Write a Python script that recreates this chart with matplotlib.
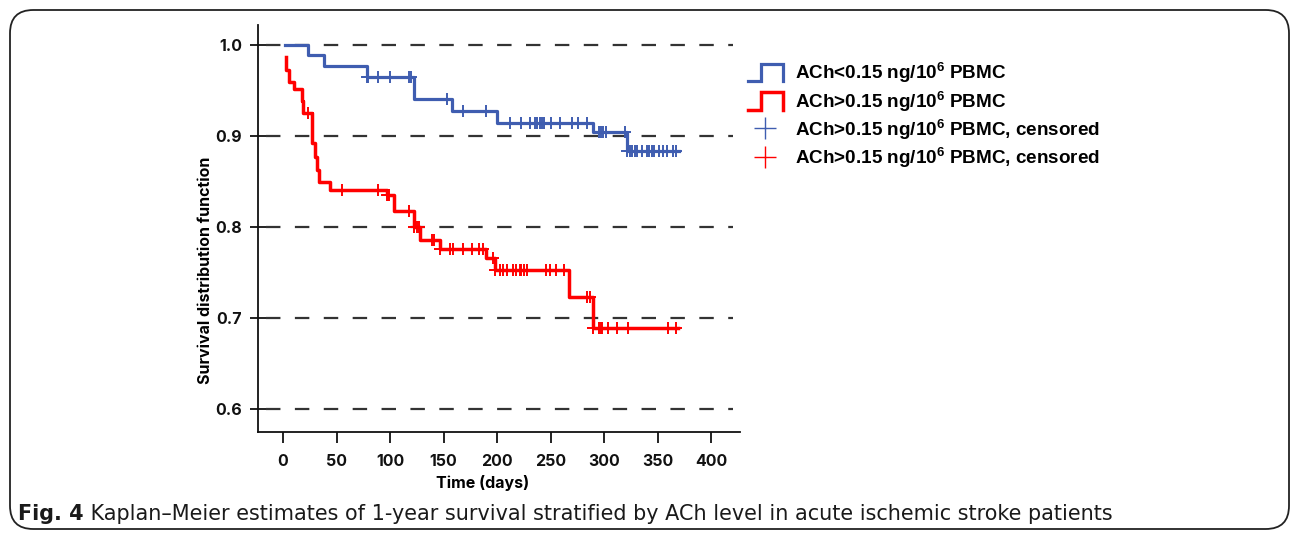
import numpy as np
import matplotlib
matplotlib.use("Agg")
import matplotlib.pyplot as plt
from matplotlib.lines import Line2D
from matplotlib.legend_handler import HandlerBase
from matplotlib.patches import FancyBboxPatch

plt.rcParams['mathtext.fontset'] = 'custom'
plt.rcParams['mathtext.rm'] = 'Liberation Sans:bold'
plt.rcParams['mathtext.it'] = 'Liberation Sans:bold:italic'
plt.rcParams['mathtext.bf'] = 'Liberation Sans:bold'

# ---------------- data ----------------
low_times = [2, 23, 38, 78, 122, 158, 200, 290, 321, 370]
low_surv = [1.0, 0.989, 0.977, 0.9645, 0.941, 0.928, 0.9146, 0.904, 0.884, 0.884]
low_censor = [78, 79, 89, 100, 118, 120, 153, 168, 190, 212, 222, 231, 235, 237,
              240, 242, 244, 250, 259, 270, 276, 284, 295, 297, 299, 302, 320,
              321, 324, 326, 329, 331, 335, 340, 342, 345, 347, 351, 355, 359,
              364, 367]

high_times = [3, 3, 6, 10, 18, 19, 27, 30, 31.5, 34, 44, 97, 104, 122, 128, 147,
              190, 198, 267, 290, 369]
high_surv = [0.987, 0.973, 0.959, 0.952, 0.938, 0.925, 0.892, 0.877, 0.863, 0.850,
             0.841, 0.835, 0.818, 0.800, 0.786, 0.776, 0.766, 0.753, 0.723, 0.689,
             0.689]
high_censor = [23, 55, 89, 97, 98, 99, 118, 122, 125, 127, 139, 141, 147, 156, 159,
               168, 177, 183, 187, 196, 198, 203, 206, 209, 215, 218, 221, 222, 225,
               228, 246, 249, 255, 263, 284, 287, 290, 295, 297, 298, 304, 312, 322,
               360, 367]

x_ticks = [0, 50, 100, 150, 200, 250, 300, 350, 400]
y_ticks = [0.6, 0.7, 0.8, 0.9, 1.0]
y_ticklabels = ['0.6', '0.7', '0.8', '0.9', '1.0']

labels = ['ACh<0.15 ng/10$^{6}$ PBMC',
          'ACh>0.15 ng/10$^{6}$ PBMC',
          'ACh>0.15 ng/10$^{6}$ PBMC, censored',
          'ACh>0.15 ng/10$^{6}$ PBMC, censored']
caption_bold = 'Fig. 4'
caption_rest = ' Kaplan\u2013Meier estimates of 1-year survival stratified by ACh level in acute ischemic stroke patients'

BLUE = '#3f5db0'
RED = '#ff0000'
AXFONT = 'Inter'
AXSIZE = 11.5

W, H = 1292, 535
fig = plt.figure(figsize=(W / 100, H / 100), dpi=100)

# outer rounded frame
frame = FancyBboxPatch((10 / W, 6 / H), 1279 / W, 519 / H,
                       boxstyle='round,pad=0,rounding_size=0.018',
                       transform=fig.transFigure, fill=False,
                       edgecolor='#222222', linewidth=1.3, mutation_aspect=W / H)
fig.patches.append(frame)

ax = fig.add_axes([258 / W, (H - 432) / H, (740 - 258) / W, (432 - 25) / H])
ax.set_xlim(-23.4, 427)
ax.set_ylim(0.5747, 1.022)

for s in ['top', 'right']:
    ax.spines[s].set_visible(False)
for s in ['left', 'bottom']:
    ax.spines[s].set_linewidth(1.3)
    ax.spines[s].set_color('#111111')

for yv in y_ticks:
    ax.axhline(yv, xmin=0.016, xmax=0.985, color='#333333', lw=1.6,
               dashes=(6.5, 6.5), zorder=1)


def surv_at(times, surv, t):
    idx = np.searchsorted(np.asarray(times, float), np.asarray(t, float), side='right') - 1
    return np.asarray(surv)[idx]


ax.step(low_times, low_surv, where='post', color=BLUE, lw=2.3, zorder=3)
ax.plot(low_censor, surv_at(low_times, low_surv, low_censor), linestyle='none',
        marker='+', markersize=8, mew=1.4, color=BLUE, zorder=4)
ax.step(high_times, high_surv, where='post', color=RED, lw=2.5, zorder=3)
ax.plot(high_censor, surv_at(high_times, high_surv, high_censor), linestyle='none',
        marker='+', markersize=8, mew=1.4, color=RED, zorder=4)

ax.set_xticks(x_ticks)
ax.set_xticklabels([str(v) for v in x_ticks])
ax.set_yticks(y_ticks)
ax.set_yticklabels(y_ticklabels)
ax.tick_params(axis='x', direction='out', length=8, width=1.3, pad=8,
               labelsize=AXSIZE, colors='#111111')
ax.tick_params(axis='y', direction='inout', length=11, width=1.3, pad=6,
               labelsize=AXSIZE, colors='#111111')
for lab in ax.get_xticklabels() + ax.get_yticklabels():
    lab.set_fontweight('bold')
    lab.set_family(AXFONT)

ax.set_xlabel('Time (days)', fontsize=AXSIZE, fontweight='bold', family=AXFONT)
ax.xaxis.set_label_coords((483 - 258) / (740 - 258), -(475 - 432) / (432 - 25))
ax.set_ylabel('Survival distribution function', fontsize=AXSIZE, fontweight='bold',
              family=AXFONT)
ax.yaxis.set_label_coords(-(258 - 213) / (740 - 258), (432 - 270) / (432 - 25))


class HandlerStep(HandlerBase):
    def create_artists(self, legend, orig_handle, xdescent, ydescent, width,
                       height, fontsize, trans):
        x0, y0 = -xdescent, -ydescent
        xs = [x0, x0 + 0.38 * width, x0 + 0.38 * width, x0 + width, x0 + width]
        ys = [y0, y0, y0 + height, y0 + height, y0]
        ln = Line2D(xs, ys, color=orig_handle.get_color(),
                    lw=orig_handle.get_linewidth(), transform=trans,
                    solid_joinstyle='miter')
        return [ln]


h1 = Line2D([], [], color=BLUE, lw=2.3)
h2 = Line2D([], [], color=RED, lw=2.5)
h3 = Line2D([], [], color=BLUE, marker='+', linestyle='none', markersize=16, mew=1.0)
h4 = Line2D([], [], color=RED, marker='+', linestyle='none', markersize=16, mew=1.0)

leg = fig.legend([h1, h2, h3, h4], labels, loc='upper left',
                 bbox_to_anchor=(748 / W, 1 - 61 / H), frameon=False,
                 borderpad=0, borderaxespad=0, handlelength=1.85, handleheight=1.05,
                 handletextpad=0.62, labelspacing=0.23,
                 prop={'family': 'Liberation Sans', 'weight': 'bold', 'size': 13.6},
                 handler_map={h1: HandlerStep(), h2: HandlerStep()})

# caption
CAPSIZE = 14.95
t1 = fig.text(18 / W, 1 - 514 / H, caption_bold, fontsize=CAPSIZE, fontweight='bold',
              family='DejaVu Sans', va='center', ha='left', color='#1a1a1a')
fig.canvas.draw()
bb = t1.get_window_extent()
fig.text(bb.x1 / W, 1 - 514 / H, caption_rest, fontsize=CAPSIZE, family='DejaVu Sans',
         va='center', ha='left', color='#1a1a1a')

fig.savefig('out.png', dpi=100)
